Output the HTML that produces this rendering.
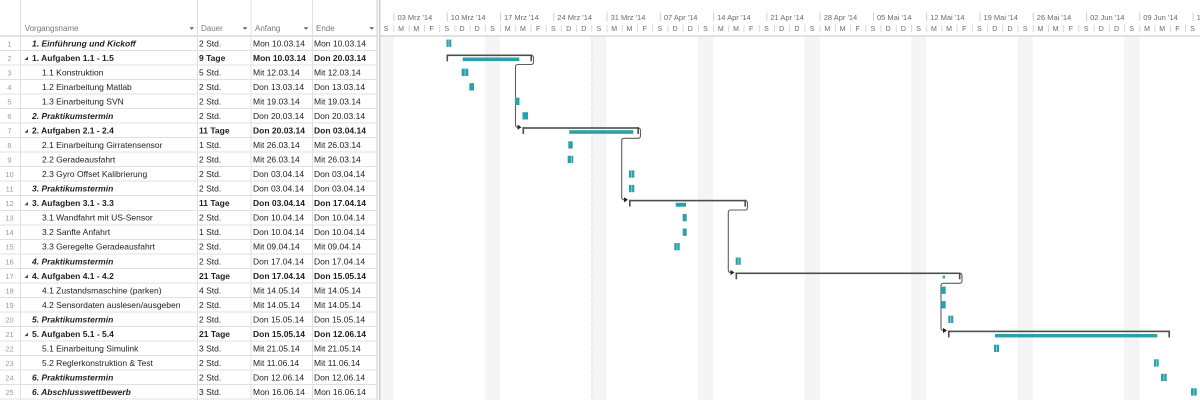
<!DOCTYPE html>
<html><head><meta charset="utf-8"><style>
html,body{margin:0;padding:0;background:#fff;}
svg{display:block;}
text{font-family:"Liberation Sans",sans-serif;}
.h{font-size:8px;fill:#7a7a7a;}
.n{font-size:7.5px;fill:#9a9a9a;text-anchor:middle;}
.t{font-size:8.5px;fill:#1e1e1e;}
.b{font-weight:bold;}
.bi{font-weight:bold;font-style:italic;}
.tl{font-size:7.5px;fill:#6a6a6a;}
.bl{font-size:7px;fill:#6a6a6a;text-anchor:middle;}
</style></head><body>
<svg width="1200" height="400" viewBox="0 0 1200 400" xmlns="http://www.w3.org/2000/svg">
<defs>
<pattern id="wk" x="378.28" y="36" width="106.55" height="400" patternUnits="userSpaceOnUse">
<rect x="0" y="0" width="15.22" height="400" fill="#f5f5f5"/>
</pattern>
<pattern id="ut" x="378.28" y="0" width="15.2214" height="40" patternUnits="userSpaceOnUse">
<rect x="0" y="0" width="0.8" height="40" fill="#cfcfcf"/>
</pattern>
<pattern id="tt" x="393.5" y="0" width="53.275" height="40" patternUnits="userSpaceOnUse">
<rect x="0" y="0" width="0.8" height="40" fill="#c4c4c4"/>
</pattern>
</defs>
<rect x="0" y="0" width="1200" height="400" fill="#fff"/>
<rect x="380" y="36.5" width="820" height="364" fill="url(#wk)"/>
<line x1="592" y1="37" x2="592" y2="400" stroke="#c4c4c4" stroke-width="1" stroke-dasharray="1,2"/>
<rect x="380" y="12.5" width="820" height="8.5" fill="url(#tt)"/>
<rect x="380" y="25" width="820" height="7" fill="url(#ut)"/>
<line x1="0" y1="36" x2="1200" y2="36" stroke="#c6c6c6" stroke-width="1"/>

<g stroke="#e0e0e0" stroke-width="1">
<line x1="0" y1="50.5" x2="377" y2="50.5"/><line x1="0" y1="65" x2="377" y2="65"/><line x1="0" y1="79.5" x2="377" y2="79.5"/><line x1="0" y1="94" x2="377" y2="94"/><line x1="0" y1="108.5" x2="377" y2="108.5"/><line x1="0" y1="123" x2="377" y2="123"/><line x1="0" y1="137.5" x2="377" y2="137.5"/><line x1="0" y1="152" x2="377" y2="152"/><line x1="0" y1="166.5" x2="377" y2="166.5"/><line x1="0" y1="181" x2="377" y2="181"/><line x1="0" y1="195.5" x2="377" y2="195.5"/><line x1="0" y1="210.5" x2="377" y2="210.5"/><line x1="0" y1="225" x2="377" y2="225"/><line x1="0" y1="239.5" x2="377" y2="239.5"/><line x1="0" y1="254" x2="377" y2="254"/><line x1="0" y1="268.5" x2="377" y2="268.5"/><line x1="0" y1="283" x2="377" y2="283"/><line x1="0" y1="297.5" x2="377" y2="297.5"/><line x1="0" y1="312" x2="377" y2="312"/><line x1="0" y1="326.5" x2="377" y2="326.5"/><line x1="0" y1="341" x2="377" y2="341"/><line x1="0" y1="355.5" x2="377" y2="355.5"/><line x1="0" y1="370" x2="377" y2="370"/><line x1="0" y1="384.5" x2="377" y2="384.5"/><line x1="0" y1="399" x2="377" y2="399"/>
<line x1="20.5" y1="0" x2="20.5" y2="400"/><line x1="197.5" y1="0" x2="197.5" y2="400"/><line x1="251" y1="0" x2="251" y2="400"/><line x1="312.5" y1="0" x2="312.5" y2="400"/>
</g>
<line x1="377" y1="0" x2="377" y2="400" stroke="#d0d0d0" stroke-width="1"/>
<rect x="377.5" y="0" width="2" height="400" fill="#f6f6f6"/>
<line x1="379.8" y1="0" x2="379.8" y2="400" stroke="#bdbdbd" stroke-width="1"/>

<text class="h" x="24.7" y="31">Vorgangsname</text>
<text class="h" x="201" y="31">Dauer</text>
<text class="h" x="255" y="31">Anfang</text>
<text class="h" x="316" y="31">Ende</text>
<g fill="#5a5a5a">
<polygon points="189.5,27.3 194,27.3 191.75,29.8"/>
<polygon points="242.8,27.3 247.3,27.3 245,29.8"/>
<polygon points="303.8,27.3 308.3,27.3 306,29.8"/>
<polygon points="369.5,27.3 374,27.3 371.75,29.8"/>
</g>

<g fill="#444">
<polygon points="24.5,60 28,60 28,56.5"/>
<polygon points="24.5,132.7 28,132.7 28,129.2"/>
<polygon points="24.5,205.3 28,205.3 28,201.8"/>
<polygon points="24.5,278 28,278 28,274.5"/>
<polygon points="24.5,336.1 28,336.1 28,332.6"/>
</g>

<text class="n" x="9.5" y="46.3">1</text>
<text class="n" x="9.5" y="60.8">2</text>
<text class="n" x="9.5" y="75.4">3</text>
<text class="n" x="9.5" y="89.9">4</text>
<text class="n" x="9.5" y="104.4">5</text>
<text class="n" x="9.5" y="119">6</text>
<text class="n" x="9.5" y="133.5">7</text>
<text class="n" x="9.5" y="148">8</text>
<text class="n" x="9.5" y="162.5">9</text>
<text class="n" x="9.5" y="177.1">10</text>
<text class="n" x="9.5" y="191.6">11</text>
<text class="n" x="9.5" y="206.1">12</text>
<text class="n" x="9.5" y="220.7">13</text>
<text class="n" x="9.5" y="235.2">14</text>
<text class="n" x="9.5" y="249.7">15</text>
<text class="n" x="9.5" y="264.3">16</text>
<text class="n" x="9.5" y="278.8">17</text>
<text class="n" x="9.5" y="293.3">18</text>
<text class="n" x="9.5" y="307.8">19</text>
<text class="n" x="9.5" y="322.4">20</text>
<text class="n" x="9.5" y="336.9">21</text>
<text class="n" x="9.5" y="351.4">22</text>
<text class="n" x="9.5" y="366">23</text>
<text class="n" x="9.5" y="380.5">24</text>
<text class="n" x="9.5" y="395">25</text>

<g class="t">
<text class="t bi" x="32" y="46.3">1. Einführung und Kickoff</text>
<text class="t" x="199" y="46.3">2 Std.</text><text class="t" x="253" y="46.3">Mon 10.03.14</text><text class="t" x="314" y="46.3">Mon 10.03.14</text>

<text class="t b" x="32" y="60.8">1. Aufgaben 1.1 - 1.5</text>
<text class="t b" x="199" y="60.8">9 Tage</text><text class="t b" x="253" y="60.8">Mon 10.03.14</text><text class="t b" x="314" y="60.8">Don 20.03.14</text>

<text class="t" x="42" y="75.4">1.1 Konstruktion</text>
<text class="t" x="199" y="75.4">5 Std.</text><text class="t" x="253" y="75.4">Mit 12.03.14</text><text class="t" x="314" y="75.4">Mit 12.03.14</text>

<text class="t" x="42" y="89.9">1.2 Einarbeitung Matlab</text>
<text class="t" x="199" y="89.9">2 Std.</text><text class="t" x="253" y="89.9">Don 13.03.14</text><text class="t" x="314" y="89.9">Don 13.03.14</text>

<text class="t" x="42" y="104.4">1.3 Einarbeitung SVN</text>
<text class="t" x="199" y="104.4">2 Std.</text><text class="t" x="253" y="104.4">Mit 19.03.14</text><text class="t" x="314" y="104.4">Mit 19.03.14</text>

<text class="t bi" x="32" y="119">2. Praktikumstermin</text>
<text class="t" x="199" y="119">2 Std.</text><text class="t" x="253" y="119">Don 20.03.14</text><text class="t" x="314" y="119">Don 20.03.14</text>

<text class="t b" x="32" y="133.5">2. Aufgaben 2.1 - 2.4</text>
<text class="t b" x="199" y="133.5">11 Tage</text><text class="t b" x="253" y="133.5">Don 20.03.14</text><text class="t b" x="314" y="133.5">Don 03.04.14</text>

<text class="t" x="42" y="148">2.1 Einarbeitung Girratensensor</text>
<text class="t" x="199" y="148">1 Std.</text><text class="t" x="253" y="148">Mit 26.03.14</text><text class="t" x="314" y="148">Mit 26.03.14</text>

<text class="t" x="42" y="162.5">2.2 Geradeausfahrt</text>
<text class="t" x="199" y="162.5">2 Std.</text><text class="t" x="253" y="162.5">Mit 26.03.14</text><text class="t" x="314" y="162.5">Mit 26.03.14</text>

<text class="t" x="42" y="177.1">2.3 Gyro Offset Kalibrierung</text>
<text class="t" x="199" y="177.1">2 Std.</text><text class="t" x="253" y="177.1">Don 03.04.14</text><text class="t" x="314" y="177.1">Don 03.04.14</text>

<text class="t bi" x="32" y="191.6">3. Praktikumstermin</text>
<text class="t" x="199" y="191.6">2 Std.</text><text class="t" x="253" y="191.6">Don 03.04.14</text><text class="t" x="314" y="191.6">Don 03.04.14</text>

<text class="t b" x="32" y="206.1">3. Aufagben 3.1 - 3.3</text>
<text class="t b" x="199" y="206.1">11 Tage</text><text class="t b" x="253" y="206.1">Don 03.04.14</text><text class="t b" x="314" y="206.1">Don 17.04.14</text>

<text class="t" x="42" y="220.7">3.1 Wandfahrt mit US-Sensor</text>
<text class="t" x="199" y="220.7">2 Std.</text><text class="t" x="253" y="220.7">Don 10.04.14</text><text class="t" x="314" y="220.7">Don 10.04.14</text>

<text class="t" x="42" y="235.2">3.2 Sanfte Anfahrt</text>
<text class="t" x="199" y="235.2">1 Std.</text><text class="t" x="253" y="235.2">Don 10.04.14</text><text class="t" x="314" y="235.2">Don 10.04.14</text>

<text class="t" x="42" y="249.7">3.3 Geregelte Geradeausfahrt</text>
<text class="t" x="199" y="249.7">2 Std.</text><text class="t" x="253" y="249.7">Mit 09.04.14</text><text class="t" x="314" y="249.7">Mit 09.04.14</text>

<text class="t bi" x="32" y="264.3">4. Praktikumstermin</text>
<text class="t" x="199" y="264.3">2 Std.</text><text class="t" x="253" y="264.3">Don 17.04.14</text><text class="t" x="314" y="264.3">Don 17.04.14</text>

<text class="t b" x="32" y="278.8">4. Aufgaben 4.1 - 4.2</text>
<text class="t b" x="199" y="278.8">21 Tage</text><text class="t b" x="253" y="278.8">Don 17.04.14</text><text class="t b" x="314" y="278.8">Don 15.05.14</text>

<text class="t" x="42" y="293.3">4.1 Zustandsmaschine (parken)</text>
<text class="t" x="199" y="293.3">4 Std.</text><text class="t" x="253" y="293.3">Mit 14.05.14</text><text class="t" x="314" y="293.3">Mit 14.05.14</text>

<text class="t" x="42" y="307.8">4.2 Sensordaten auslesen/ausgeben</text>
<text class="t" x="199" y="307.8">2 Std.</text><text class="t" x="253" y="307.8">Mit 14.05.14</text><text class="t" x="314" y="307.8">Mit 14.05.14</text>

<text class="t bi" x="32" y="322.4">5. Praktikumstermin</text>
<text class="t" x="199" y="322.4">2 Std.</text><text class="t" x="253" y="322.4">Don 15.05.14</text><text class="t" x="314" y="322.4">Don 15.05.14</text>

<text class="t b" x="32" y="336.9">5. Aufgaben 5.1 - 5.4</text>
<text class="t b" x="199" y="336.9">21 Tage</text><text class="t b" x="253" y="336.9">Don 15.05.14</text><text class="t b" x="314" y="336.9">Don 12.06.14</text>

<text class="t" x="42" y="351.4">5.1 Einarbeitung Simulink</text>
<text class="t" x="199" y="351.4">3 Std.</text><text class="t" x="253" y="351.4">Mit 21.05.14</text><text class="t" x="314" y="351.4">Mit 21.05.14</text>

<text class="t" x="42" y="366">5.2 Reglerkonstruktion &amp; Test</text>
<text class="t" x="199" y="366">2 Std.</text><text class="t" x="253" y="366">Mit 11.06.14</text><text class="t" x="314" y="366">Mit 11.06.14</text>

<text class="t bi" x="32" y="380.5">6. Praktikumstermin</text>
<text class="t" x="199" y="380.5">2 Std.</text><text class="t" x="253" y="380.5">Don 12.06.14</text><text class="t" x="314" y="380.5">Don 12.06.14</text>

<text class="t bi" x="32" y="395">6. Abschlusswettbewerb</text>
<text class="t" x="199" y="395">3 Std.</text><text class="t" x="253" y="395">Mon 16.06.14</text><text class="t" x="314" y="395">Mon 16.06.14</text>
</g>

<text class="tl" x="397.5" y="20">03 Mrz '14</text>
<text class="tl" x="450.8" y="20">10 Mrz '14</text>
<text class="tl" x="504" y="20">17 Mrz '14</text>
<text class="tl" x="557.3" y="20">24 Mrz '14</text>
<text class="tl" x="610.6" y="20">31 Mrz '14</text>
<text class="tl" x="663.9" y="20">07 Apr '14</text>
<text class="tl" x="717.1" y="20">14 Apr '14</text>
<text class="tl" x="770.4" y="20">21 Apr '14</text>
<text class="tl" x="823.7" y="20">28 Apr '14</text>
<text class="tl" x="877" y="20">05 Mai '14</text>
<text class="tl" x="930.2" y="20">12 Mai '14</text>
<text class="tl" x="983.5" y="20">19 Mai '14</text>
<text class="tl" x="1036.8" y="20">26 Mai '14</text>
<text class="tl" x="1090.1" y="20">02 Jun '14</text>
<text class="tl" x="1143.3" y="20">09 Jun '14</text>
<text class="tl" x="1196.6" y="20">16 Jun '14</text>

<text class="bl" x="385.9" y="31">S</text><text class="bl" x="401.1" y="31">M</text><text class="bl" x="416.3" y="31">M</text><text class="bl" x="431.6" y="31">F</text><text class="bl" x="446.8" y="31">S</text><text class="bl" x="462" y="31">D</text><text class="bl" x="477.2" y="31">D</text>
<text class="bl" x="492.4" y="31">S</text><text class="bl" x="507.7" y="31">M</text><text class="bl" x="522.9" y="31">M</text><text class="bl" x="538.1" y="31">F</text><text class="bl" x="553.3" y="31">S</text><text class="bl" x="568.6" y="31">D</text><text class="bl" x="583.8" y="31">D</text>
<text class="bl" x="599" y="31">S</text><text class="bl" x="614.2" y="31">M</text><text class="bl" x="629.4" y="31">M</text><text class="bl" x="644.7" y="31">F</text><text class="bl" x="659.9" y="31">S</text><text class="bl" x="675.1" y="31">D</text><text class="bl" x="690.3" y="31">D</text>
<text class="bl" x="705.5" y="31">S</text><text class="bl" x="720.8" y="31">M</text><text class="bl" x="736" y="31">M</text><text class="bl" x="751.2" y="31">F</text><text class="bl" x="766.4" y="31">S</text><text class="bl" x="781.6" y="31">D</text><text class="bl" x="796.9" y="31">D</text>
<text class="bl" x="812.1" y="31">S</text><text class="bl" x="827.3" y="31">M</text><text class="bl" x="842.5" y="31">M</text><text class="bl" x="857.8" y="31">F</text><text class="bl" x="873" y="31">S</text><text class="bl" x="888.2" y="31">D</text><text class="bl" x="903.4" y="31">D</text>
<text class="bl" x="918.6" y="31">S</text><text class="bl" x="933.9" y="31">M</text><text class="bl" x="949.1" y="31">M</text><text class="bl" x="964.3" y="31">F</text><text class="bl" x="979.5" y="31">S</text><text class="bl" x="994.8" y="31">D</text><text class="bl" x="1010" y="31">D</text>
<text class="bl" x="1025.2" y="31">S</text><text class="bl" x="1040.4" y="31">M</text><text class="bl" x="1055.6" y="31">M</text><text class="bl" x="1070.9" y="31">F</text><text class="bl" x="1086.1" y="31">S</text><text class="bl" x="1101.3" y="31">D</text><text class="bl" x="1116.5" y="31">D</text>
<text class="bl" x="1131.7" y="31">S</text><text class="bl" x="1147" y="31">M</text><text class="bl" x="1162.2" y="31">M</text><text class="bl" x="1177.4" y="31">F</text><text class="bl" x="1192.6" y="31">S</text>

<g fill="none" stroke="#5e5e5e" stroke-width="1.1">
<path d="M531,55.3 Q533.5,55.3 533.5,57.8 L533.5,62 Q533.5,64.5 531,64.5 L518,64.5 Q515.5,64.5 515.5,67 L515.5,124.7 Q515.5,127.2 518,127.2 L518.5,127.2"/>
<path d="M638,128 Q640.5,128 640.5,130.5 L640.5,135.8 Q640.5,138.3 638,138.3 L624.2,138.3 Q621.7,138.3 621.7,140.8 L621.7,197.3 Q621.7,199.8 624.2,199.8 L625,199.8"/>
<path d="M745,200.6 Q747.5,200.6 747.5,203.1 L747.5,207.5 Q747.5,210 745,210 L730.8,210 Q728.3,210 728.3,212.5 L728.3,270 Q728.3,272.5 730.8,272.5 L731.5,272.5"/>
<path d="M959.5,273.3 Q962,273.3 962,275.8 L962,280.8 Q962,283.3 959.5,283.3 L943.5,283.3 Q941,283.3 941,285.8 L941,328 Q941,330.5 943.5,330.5 L944,330.5"/>
</g>
<g fill="#222">
<polygon points="521.5,127.2 517.5,124.6 517.5,129.8"/>
<polygon points="628,199.8 624,197.2 624,202.4"/>
<polygon points="734.5,272.5 730.5,269.9 730.5,275.1"/>
<polygon points="947,330.5 943,327.9 943,333.1"/>
</g>

<g fill="#4d4d4d">
<rect x="446.5" y="54.5" width="85.5" height="1.6"/><rect x="446.5" y="54.5" width="1.6" height="6.8"/><rect x="530.4" y="54.5" width="1.6" height="6.8"/>
<rect x="522.5" y="127.2" width="116.5" height="1.6"/><rect x="522.5" y="127.2" width="1.6" height="6.8"/><rect x="637.4" y="127.2" width="1.6" height="6.8"/>
<rect x="629" y="199.8" width="117" height="1.6"/><rect x="629" y="199.8" width="1.6" height="6.8"/><rect x="744.4" y="199.8" width="1.6" height="6.8"/>
<rect x="735.5" y="272.5" width="225" height="1.6"/><rect x="735.5" y="272.5" width="1.6" height="6.8"/><rect x="958.9" y="272.5" width="1.6" height="6.8"/>
<rect x="948" y="330.6" width="222" height="1.6"/><rect x="948" y="330.6" width="1.6" height="6.8"/><rect x="1168.4" y="330.6" width="1.6" height="6.8"/>
</g>
<g fill="#2aa0a8">
<rect x="462.7" y="57.5" width="56.6" height="3.6"/>
<rect x="569.3" y="130.2" width="64" height="3.6"/>
<rect x="675.7" y="202.8" width="10.3" height="3.9"/>
<rect x="942.7" y="275.7" width="2.4" height="2.7"/>
<rect x="995" y="334" width="162.3" height="3.4"/>
</g>

<g fill="#2aa0a8">
<rect x="446.5" y="39.6" width="4.8" height="7.3"/>
<rect x="461.7" y="68.7" width="6.6" height="7.3"/>
<rect x="469.3" y="83.2" width="4.7" height="7.3"/>
<rect x="515" y="97.7" width="4.5" height="7.3"/>
<rect x="522.5" y="112.2" width="5.5" height="7.3"/>
<rect x="568.3" y="141.3" width="4.4" height="7.3"/>
<rect x="567.7" y="155.8" width="5.6" height="7.3"/>
<rect x="629" y="170.4" width="5.3" height="7.3"/>
<rect x="629" y="184.9" width="5.3" height="7.3"/>
<rect x="682.7" y="214" width="4" height="7.3"/>
<rect x="682.7" y="228.5" width="4" height="7.3"/>
<rect x="674.3" y="243" width="5.4" height="7.3"/>
<rect x="735.7" y="257.5" width="5" height="7.3"/>
<rect x="941" y="286.6" width="4.7" height="7.3"/>
<rect x="941" y="301.1" width="4.7" height="7.3"/>
<rect x="948.3" y="315.7" width="5" height="7.3"/>
<rect x="994" y="344.7" width="5" height="7.3"/>
<rect x="1154" y="359.3" width="4.7" height="7.3"/>
<rect x="1161" y="373.8" width="5.7" height="7.3"/>
<rect x="1191" y="388.3" width="5.7" height="7.3"/>
</g>
<g fill="#9fd6da">
<rect x="448.5" y="39.6" width="0.8" height="7.3"/>
<rect x="464.6" y="68.7" width="0.8" height="7.3"/>
<rect x="571.1" y="155.8" width="0.8" height="7.3"/>
<rect x="631.3" y="170.4" width="0.8" height="7.3"/>
<rect x="631.3" y="184.9" width="0.8" height="7.3"/>
<rect x="676.6" y="243" width="0.8" height="7.3"/>
<rect x="737.8" y="257.5" width="0.8" height="7.3"/>
<rect x="950.4" y="315.7" width="0.8" height="7.3"/>
<rect x="996.1" y="344.7" width="0.8" height="7.3"/>
<rect x="1156" y="359.3" width="0.8" height="7.3"/>
<rect x="1163.5" y="373.8" width="0.8" height="7.3"/>
<rect x="1193.5" y="388.3" width="0.8" height="7.3"/>
</g>
</svg>
</body></html>
